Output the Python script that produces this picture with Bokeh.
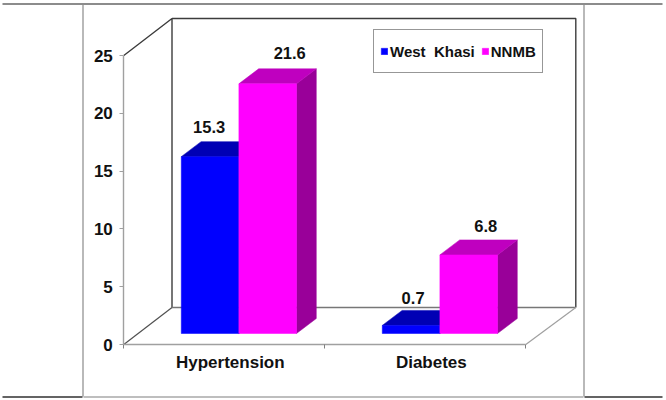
from bokeh.plotting import figure
from bokeh.embed import file_html
from bokeh.resources import INLINE
from bokeh.models import LinearAxis, FixedTicker, ColumnDataSource, Legend, LegendItem
from bokeh.core.properties import value

# ---- data
categories = ["Hypertension", "Diabetes"]
west_khasi = [15.3, 0.7]
nnmb = [21.6, 6.8]
y_ticks = [0, 5, 10, 15, 20, 25]

# ---- geometry
W, H = 666, 400
X0_PX, Y0_PX = 123.3, 344.0        # pixel position of the chart's origin
PX_X, PX_Y = 201.0, 11.56          # pixels per category / per value unit
FONT = "Liberation Sans"
def X(px): return (px - X0_PX) / PX_X
def Y(py): return (Y0_PX - py) / PX_Y
DX, DY = 19.8 / PX_X, 15 / PX_Y    # bar depth
WX, WY = 48.2 / PX_X, 37 / PX_Y    # wall depth, left corner
WX_R = 50 / PX_X                   # wall depth, right corner
BASE = 11 / PX_Y                   # bar foot above the front edge
BAR_W, BAR_X = 57.6 / PX_X, 0.2860 # bar width, first bar's inset

p = figure(width=W, height=H, output_backend="svg", toolbar_location=None,
           x_range=(X(0), X(W)), y_range=(Y(H), Y(0)),
           min_border=0, min_border_left=0, min_border_right=0,
           min_border_top=0, min_border_bottom=0,
           x_axis_type=None, y_axis_type=None,
           outline_line_color=None, background_fill_color="white",
           border_fill_color="white")
p.grid.visible = False

# ---- 3-D box: walls and floor
xl, xr = 0.0, 2.0
p.line([xl, xl + WX, xl + WX], [25, 25 + WY, WY], line_color="#3c3c3c", line_width=1.4)
p.line([xl + WX, xr + WX_R, xr + WX_R], [25 + WY, 25 + WY, WY], line_color="#3c3c3c", line_width=1.4)
p.line([xl, xl + WX], [0, WY], line_color="#505050", line_width=1.2)
p.line([xl + WX, xr + WX_R], [WY, WY], line_color="#777777", line_width=1.4)
p.line([xr, xr + WX_R], [0, WY], line_color="#a0a0a0", line_width=1.2)

# ---- surrounding table rules
GRAY, DARK = "#a8a8a8", "#303030"
rules = [([82.5, 82.5], [3, 396], GRAY), ([583.5, 583.5], [3, 396], GRAY),
         ([2, 82], [396.5, 396.5], DARK), ([83, 583], [396.5, 396.5], GRAY), ([584, 662], [396.5, 396.5], DARK)]
for xs, ys, c in rules:
    p.line([X(v) for v in xs], [Y(v) for v in ys], line_color=c, line_width=1.6)
p.quad(left=X(2), right=X(662), top=Y(2.5), bottom=Y(4.5), fill_color="#8c8c8c", line_color=None)

# ---- bars
def bar(i, col, v, front, top, side):
    x0 = i + BAR_X + col * BAR_W
    x1 = x0 + BAR_W
    y0, y1 = BASE, BASE + v
    p.patch([x1, x1 + DX, x1 + DX, x1], [y0, y0 + DY, y1 + DY, y1], fill_color=side, line_color=side, line_width=0.5)
    p.patch([x0, x0 + DX, x1 + DX, x1], [y1, y1 + DY, y1 + DY, y1], fill_color=top, line_color=top, line_width=0.5)
    return p.quad(left=x0, right=x1, bottom=y0, top=y1, fill_color=front, line_color=front, line_width=0.5)

blue_r = [bar(i, 0, v, "#0000ff", "#0000b4", "#000090") for i, v in enumerate(west_khasi)]
pink_r = [bar(i, 1, v, "#ff00ff", "#bf00bf", "#990099") for i, v in enumerate(nnmb)]

# ---- value labels
lab_x, lab_y, lab_t, off_x, off_y = [], [], [], [], []
for vals, col, ox, oy in ((west_khasi, 0, [-1, 2], [30, 27]), (nnmb, 1, [22, 17], [31, 28.5])):
    for i, v in enumerate(vals):
        lab_x.append(i + BAR_X + (col + 0.5) * BAR_W)
        lab_y.append(BASE + v)
        lab_t.append(f"{v:.1f}")
        off_x.append(ox[i])
        off_y.append(-oy[i])
p.text(x="x", y="y", text="t", x_offset="ox", y_offset="oy",
       source=ColumnDataSource(dict(x=lab_x, y=lab_y, t=lab_t, ox=off_x, oy=off_y)),
       text_font=value(FONT), text_font_style="bold", text_font_size="16.5px",
       text_align="center", text_baseline="middle", text_color="#111111")

# ---- axes
yax = LinearAxis(fixed_location=0, ticker=FixedTicker(ticks=y_ticks), bounds=(0, 25))
yax.axis_line_color = "#a0a0a0"; yax.axis_line_width = 1.4
yax.major_tick_line_color = "#a0a0a0"; yax.major_tick_in = 0; yax.major_tick_out = 4
yax.minor_tick_line_color = None
yax.major_label_text_font = FONT; yax.major_label_text_font_style = "bold"
yax.major_label_text_font_size = "17px"; yax.major_label_text_color = "#111111"
yax.major_label_standoff = 7
p.add_layout(yax, "left")

label_pos = [i + 0.53 for i in range(len(categories))]
xax = LinearAxis(fixed_location=0,
                 ticker=FixedTicker(ticks=label_pos, minor_ticks=list(range(len(categories) + 1))),
                 bounds=(0, 2),
                 major_label_overrides={t: c for t, c in zip(label_pos, categories)})
xax.axis_line_color = "#a0a0a0"; xax.axis_line_width = 1.4
xax.major_tick_line_color = None; xax.major_tick_out = 0; xax.major_tick_in = 0
xax.minor_tick_line_color = "#808080"; xax.minor_tick_in = 0; xax.minor_tick_out = 4
xax.major_label_text_font = FONT; xax.major_label_text_font_style = "bold"
xax.major_label_text_font_size = "17px"; xax.major_label_text_color = "#111111"
xax.major_label_standoff = 4
p.add_layout(xax, "below")

# ---- legend
legend = Legend(items=[LegendItem(label="West  Khasi", renderers=[blue_r[0]]),
                       LegendItem(label="NNMB", renderers=[pink_r[0]])],
                orientation="horizontal",
                location=(373, H - 73),
                glyph_width=8, glyph_height=8, label_standoff=2, spacing=6,
                padding=6, margin=0,
                label_text_font=FONT, label_text_font_style="bold",
                label_text_font_size="15px", label_text_color="#111111",
                label_height=30,
                border_line_color="#303030", border_line_width=1.4,
                background_fill_color="white", background_fill_alpha=1)
p.add_layout(legend, "center")

open("out.html", "w").write(file_html(p, INLINE))
